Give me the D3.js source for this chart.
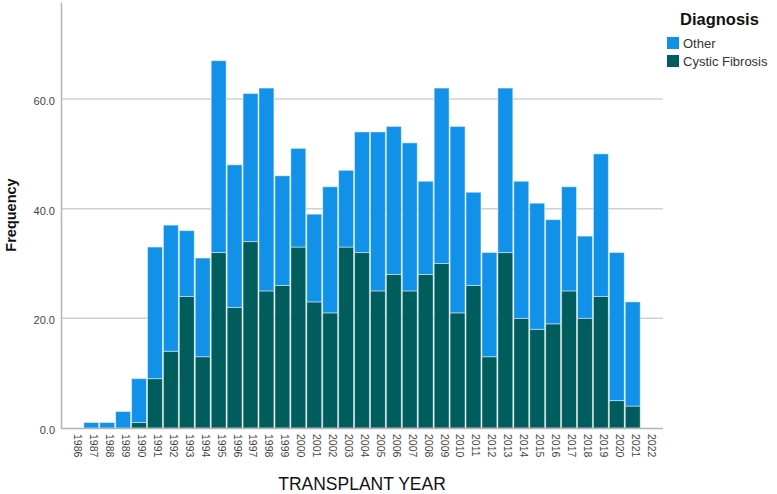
<!DOCTYPE html>
<html>
<head>
<meta charset="utf-8">
<script src="https://cdn.jsdelivr.net/npm/d3@7"></script>
<style>
  body { margin: 0; background: #fff; }
  svg { display: block; font-family: "Liberation Sans", Arial, sans-serif; }
</style>
</head>
<body>
<div id="chart"></div>
<script>
// Transplant year categories
const years = [1986, 1987, 1988, 1989, 1990, 1991, 1992, 1993, 1994, 1995, 1996, 1997, 1998, 1999,
  2000, 2001, 2002, 2003, 2004, 2005, 2006, 2007, 2008, 2009, 2010, 2011, 2012, 2013, 2014, 2015,
  2016, 2017, 2018, 2019, 2020, 2021, 2022];

// Frequencies per diagnosis (stacked: CF at bottom, Other on top)
const cysticFibrosis = [0, 0, 0, 0, 1, 9, 14, 24, 13, 32, 22, 34, 25, 26, 33, 23, 21, 33, 32, 25,
  28, 25, 28, 30, 21, 26, 13, 32, 20, 18, 19, 25, 20, 24, 5, 4, 0];
const other = [0, 1, 1, 3, 8, 24, 23, 12, 18, 35, 26, 27, 37, 20, 18, 16, 23, 14, 22, 29,
  27, 27, 17, 32, 34, 17, 19, 30, 25, 23, 19, 19, 15, 26, 27, 19, 0];

const yTicks = [0, 20, 40, 60];
const seriesKeys = ['Cystic Fibrosis', 'Other'];
const legendOrder = ['Other', 'Cystic Fibrosis'];
const colors = { 'Other': '#1192e8', 'Cystic Fibrosis': '#005d5d' };

const width = 777, height = 494;
const plot = { left: 61, right: 663, top: 2, bottom: 428 };

const rows = years.map((y, i) => ({ year: y, 'Cystic Fibrosis': cysticFibrosis[i], 'Other': other[i] }));
const stacked = d3.stack().keys(seriesKeys)(rows);

const svg = d3.select('#chart').append('svg')
  .attr('width', width)
  .attr('height', height);

const x = d3.scaleBand()
  .domain(years)
  .range([plot.left, plot.right])
  .paddingInner(0)
  .paddingOuter(0.4);

const y = d3.scaleLinear()
  .domain([0, 77.7])
  .range([plot.bottom, plot.top]);

// gridlines
svg.append('g')
  .selectAll('line')
  .data(yTicks.filter(d => d > 0))
  .join('line')
  .attr('x1', plot.left)
  .attr('x2', plot.right)
  .attr('y1', d => y(d))
  .attr('y2', d => y(d))
  .attr('stroke', '#d0d0d0')
  .attr('stroke-width', 1.5);

// bars
svg.append('g')
  .selectAll('g')
  .data(stacked)
  .join('g')
  .attr('fill', d => colors[d.key])
  .selectAll('rect')
  .data(d => d.filter(p => p[1] - p[0] > 0))
  .join('rect')
  .attr('x', d => x(d.data.year) + 0.5)
  .attr('width', x.bandwidth() - 1)
  .attr('y', d => y(d[1]))
  .attr('height', d => y(d[0]) - y(d[1]))
  .attr('stroke', 'rgba(255,255,255,0.45)')
  .attr('stroke-width', 1);

// y axis
const yAxis = svg.append('g')
  .attr('transform', `translate(${plot.left},0)`)
  .call(d3.axisLeft(y).tickValues(yTicks).tickFormat(d3.format('.1f')).tickSize(0).tickPadding(6));
yAxis.select('.domain').attr('stroke', '#b4b4b4').attr('stroke-width', 1.5);
yAxis.selectAll('text')
  .attr('font-size', 11)
  .attr('fill', '#444')
  .attr('dy', '0.5em');

// x axis
const xAxis = svg.append('g')
  .attr('transform', `translate(0,${plot.bottom})`)
  .call(d3.axisBottom(x).tickSize(0));
xAxis.select('.domain')
  .attr('d', `M${plot.left},0.5H${plot.right}`)
  .attr('stroke', '#b4b4b4')
  .attr('stroke-width', 1.5);
xAxis.selectAll('text')
  .attr('font-size', 10.5)
  .attr('fill', '#444')
  .attr('text-anchor', 'start')
  .attr('transform', 'rotate(90)')
  .attr('x', 6)
  .attr('y', 0)
  .attr('dy', '0.1em');

// axis titles
svg.append('text')
  .attr('transform', `translate(16,${(plot.top + plot.bottom) / 2}) rotate(-90)`)
  .attr('text-anchor', 'middle')
  .attr('font-size', 14.5)
  .attr('font-weight', 'bold')
  .attr('fill', '#111')
  .text('Frequency');

svg.append('text')
  .attr('x', (plot.left + plot.right) / 2)
  .attr('y', 490)
  .attr('text-anchor', 'middle')
  .attr('font-size', 17.5)
  .attr('fill', '#111')
  .text('TRANSPLANT YEAR');

// legend
const legend = svg.append('g').attr('transform', 'translate(667,0)');
legend.append('text')
  .attr('x', 13)
  .attr('y', 25)
  .attr('font-size', 16.5)
  .attr('font-weight', 'bold')
  .attr('fill', '#111')
  .text('Diagnosis');

const items = legend.selectAll('g.item')
  .data(legendOrder)
  .join('g')
  .attr('class', 'item')
  .attr('transform', (d, i) => `translate(0,${37 + i * 18})`);
items.append('rect')
  .attr('width', 12)
  .attr('height', 12)
  .attr('fill', d => colors[d]);
items.append('text')
  .attr('x', 16)
  .attr('y', 11)
  .attr('font-size', 13)
  .attr('fill', '#333')
  .text(d => d);
</script>
</body>
</html>
